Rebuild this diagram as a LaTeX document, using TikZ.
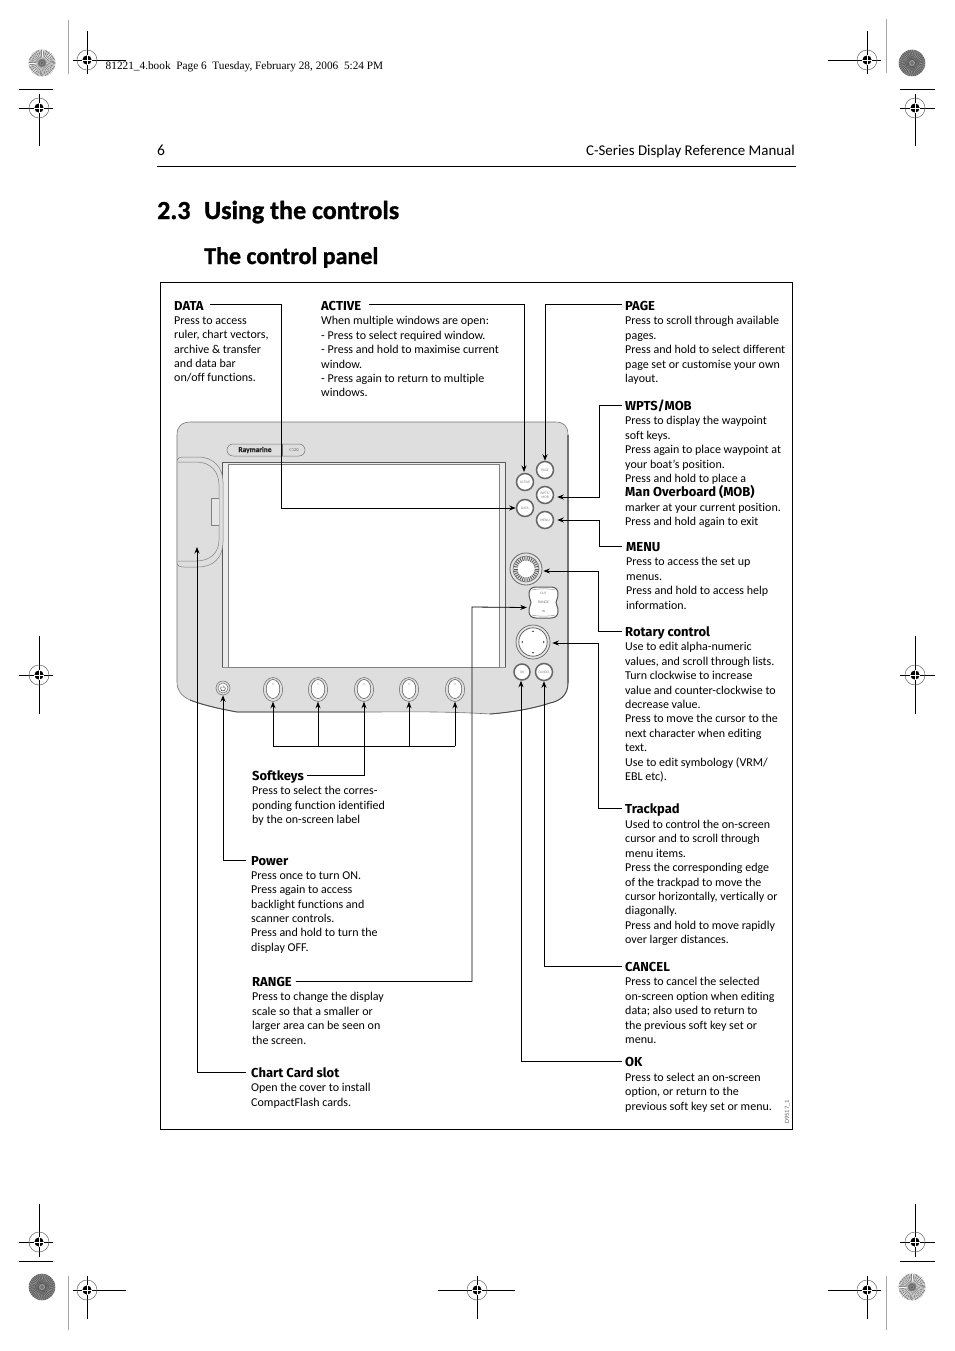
\documentclass[tikz,border=0pt]{standalone}
\usepackage{fontspec}
\usetikzlibrary{arrows.meta,calc,shapes.geometric}
\setmainfont[Ligatures=NoCommon]{Carlito}
\newfontfamily\heavy[BoldFeatures={FakeBold=1.1}]{Carlito}
\newfontfamily\headf{Fira Sans}
\newfontfamily\headerserif{Liberation Serif}
\tikzset{
  bodytext/.style={anchor=north west,inner sep=0pt,yshift=-2.7pt,align=left,font=\fontsize{12}{14.45}\selectfont},
  headtext/.style={anchor=west,inner sep=0pt,text height=8.4pt,text depth=0pt,yshift=-0.4pt,font=\headf\bfseries\fontsize{13}{14.45}\selectfont},
  conn/.style={draw=black,line width=0.8pt},
  arr/.style={conn,-{Stealth[length=6.5pt,width=5pt]}},
  keybtn/.style={circle,inner sep=0pt,minimum size=#1,fill=white,draw=black!60,line width=1.5pt,text=black!50,align=center,font=\fontsize{3.6}{4}\selectfont},
  softring/.style={ellipse,inner sep=0pt,minimum width=19.4pt,minimum height=24pt,draw=black!60,line width=0.5pt,fill=black!12},
  softcap/.style={draw=black!70,line width=0.5pt,fill=white},
  regthin/.style={draw=black!60,line width=0.5pt},
  regline/.style={draw=black,line width=0.8pt},
  panelline/.style={draw=black!55,line width=0.6pt},
  pics/regmark/.style={code={
    \draw[regthin] (0,0) circle (10);
    \fill[black] (0,0) circle (4.6);
    \draw[white,line width=0.7pt] (-5,0) -- (5,0) (0,-5) -- (0,5);
  }},
  pics/burst/.style={code={
    \fill[black!45] (0,0) circle (13.3);
    \foreach \a in {0,6,...,354} {\draw[white,line width=0.45pt] (\a:4) -- (\a:13.3);}
    \foreach \a in {3,15,...,351} {\draw[black!60,line width=0.35pt] (\a:2) -- (\a:13.3);}
    \fill[black!70] (0,0) circle (1);
  }},
  pics/noisy/.style={code={
    \fill[black!55] (0,0) circle (13.3);
    \foreach \a in {0,10,...,350} {\draw[black!35,line width=0.5pt] (\a:2) -- (\a+37:13);}
    \foreach \a in {5,15,...,355} {\draw[black!70,line width=0.35pt] (\a:3) -- (\a-41:13);}
  }},
}
\begin{document}
\begin{tikzpicture}[x=1pt,y=-1pt]
\useasboundingbox (0,0) rectangle (954,1351);
\fill[white] (0,0) rectangle (954,1351);

% --- printer's marks
\foreach \x/\y/\hl/\hr/\vt/\vb in {87/60/73/126/31/74, 867/60/828/881/31/74, 39/108/19/53/94/146, 915/108/900/935/94/146,
    39/675/19/53/636/714, 915/675/900/935/636/714, 39/1242/19/53/1204/1257, 915/1242/900/935/1204/1257,
    87/1290/73/126/1276/1319, 867/1290/828/881/1276/1319, 477/1290/438/515/1276/1319} {
  \draw[regline] (\hl,\y) -- (\hr,\y) (\x,\vt) -- (\x,\vb);
  \pic at (\x,\y) {regmark};
}
\draw[regline] (19,89) -- (53,89) (900,89) -- (935,89) (19,1261) -- (53,1261) (900,1261) -- (935,1261);
\draw[draw=black!35,line width=0.8pt] (68,20) -- (68,74) (886,19) -- (886,73) (68,1276) -- (68,1330) (886,1276) -- (886,1330);
\pic at (42,63) {burst};
\pic at (912,1287) {burst};
\pic at (912,63) {noisy};
\pic at (42,1287) {noisy};
\node[anchor=west,inner sep=0pt,font=\headerserif\fontsize{11.3}{13}\selectfont] (slug) at (105.5,66.5) {81221\_4.book\ \ Page 6\ \ Tuesday, February 28, 2006\ \ 5:24 PM};

% --- page head
\node[anchor=base west,inner sep=0pt,font=\fontsize{15.5}{18}\selectfont] (pageno) at (157,156) {6};
\node[anchor=base east,inner sep=0pt,font=\fontsize{14.9}{18}\selectfont] (running) at (795,156) {C-Series Display Reference Manual};
\draw[conn] (157,166) -- (796,166);
\node[anchor=base west,inner sep=0pt,font=\heavy\bfseries\fontsize{26}{30}\selectfont] (secno) at (157,219) {2.3};
\node[anchor=base west,inner sep=0pt,font=\heavy\bfseries\fontsize{26}{30}\selectfont] (sectitle) at (204,219) {Using the controls};
\node[anchor=base west,inner sep=0pt,font=\heavy\bfseries\fontsize{24}{27}\selectfont] (subtitle) at (204,264) {The control panel};

% --- frame
\draw[conn] (160,282) rectangle (792,1129);

% --- panel
\path[fill=black!13,panelline] (177,435) .. controls (177,426) and (182,422) .. (191,422)
  -- (555,422) .. controls (564,422) and (568,426) .. (568,435) -- (568,683)
  .. controls (568,695) and (560,701) .. (550,703) .. controls (535,708) and (515,712) .. (490,714)
  .. controls (440,711) and (400,712) .. (364,712) .. controls (320,712) and (280,712) .. (237,712)
  .. controls (215,708) and (200,704) .. (190,700) .. controls (181,696) and (177,690) .. (177,682) -- cycle;
\draw[draw=black!55,line width=1.2pt] (568,435) -- (568,683);
\draw[draw=black!70,line width=0.9pt] (568,683) .. controls (568,695) and (560,701) .. (550,703) .. controls (535,708) and (515,712) .. (490,714);
\draw[draw=black!70,line width=0.9pt] (364,712) .. controls (320,712) and (280,712) .. (237,712) .. controls (215,708) and (200,704) .. (190,700);
% bezel and screen
\path[fill=black!8,draw=black!45,line width=0.6pt] (222,462) rectangle (505,667);
\draw[draw=black!65,line width=1pt] (222,667) -- (222,462) -- (505,462) -- (505,667);
\path[fill=white,draw=black!50,line width=0.5pt] (228,464) rectangle (499,667);
% card door
\path[fill=black!13,draw=black!50,line width=0.5pt] (177,462) .. controls (177,458) and (180,457) .. (184,457) -- (198,457)
  .. controls (214,457) and (223,468) .. (223,482) -- (223,542) .. controls (223,557) and (214,567) .. (198,567)
  -- (184,567) .. controls (180,567) and (177,566) .. (177,562) -- cycle;
\draw[draw=black!50,line width=0.5pt] (178,462) -- (196,462) .. controls (211,462) and (219,472) .. (219,485)
  -- (219,540) .. controls (219,552) and (211,561) .. (196,561) -- (178,561);
\draw[draw=black!50,line width=0.5pt,fill=black!10] (219,498) -- (211,498) -- (211,525) -- (219,525);
% logo
\node[inner sep=0pt,minimum width=78pt,minimum height=12pt,rounded corners=6pt,draw=black!55,line width=0.5pt] (pill) at (266,450) {};
\draw[draw=black!55,line width=0.5pt] (282,444) -- (282,456);
\node[inner sep=0pt,font=\heavy\bfseries\fontsize{7.4}{8}\selectfont,text=black!85] (logo) at (255,450) {Raymarine};
\node[inner sep=0pt,font=\fontsize{4.5}{5}\selectfont,text=black!60] (model) at (294,450) {C120};

% keys
\node[keybtn=17pt] (keyActive) at (525,482) {ACTIVE};
\node[keybtn=17pt] (keyPage) at (545,470) {PAGE};
\node[keybtn=17pt] (keyWpts) at (545,495) {WPTS/\\MOB};
\node[keybtn=17pt] (keyData) at (525,508) {DATA};
\node[keybtn=17pt] (keyMenu) at (545,520) {MENU};
\node[keybtn=16pt] (keyOk) at (522,672) {OK};
\node[keybtn=17pt] (keyCancel) at (544,672) {CANCEL};
% rotary
\node[circle,inner sep=0pt,minimum size=32pt,fill=black!10,draw=black!60,line width=0.8pt] (rotary) at (526,569) {};
\draw[draw=black!60,line width=0.6pt] (rotary) circle (13);
\foreach \a in {0,12,...,348} {\draw[draw=black!65,line width=0.9pt] ($(rotary)+(\a:8.5)$) -- ($(rotary)+(\a:12.5)$);}
\fill[white] (rotary) circle (8.2);
% range
\node[inner sep=0pt,minimum width=29pt,minimum height=31pt] (range) at (543.5,602.5) {};
\path[fill=white,draw=black!65,line width=1pt] (536,587) -- (551,587) .. controls (556,587) and (558,590) .. (558,594)
  .. controls (558,599) and (556,600) .. (556,602.5) .. controls (556,605) and (558,606) .. (558,611)
  .. controls (558,615) and (556,618) .. (551,618) -- (536,618) .. controls (531,618) and (529,615) .. (529,611)
  .. controls (529,606) and (531,605) .. (531,602.5) .. controls (531,600) and (529,599) .. (529,594)
  .. controls (529,590) and (531,587) .. (536,587) -- cycle;
\node[inner sep=0pt,text=black!55,font=\fontsize{3.8}{5}\selectfont] (rangeLbl) at (543.5,602) {RANGE};
\node[inner sep=0pt,text=black!55,font=\fontsize{3.4}{4}\selectfont] (rangeOut) at (543.5,593) {OUT};
\node[inner sep=0pt,text=black!55,font=\fontsize{3.4}{4}\selectfont] (rangeIn) at (543.5,611) {IN};
\draw[draw=black!40,line width=0.5pt] (532,590) .. controls (536,588.5) and (551,588.5) .. (555,590) (532,615) .. controls (536,616.5) and (551,616.5) .. (555,615);
% trackpad
\node[circle,inner sep=0pt,minimum size=34pt,fill=black!10,draw=black!60,line width=0.7pt] (trackpad) at (533,642) {};
\draw[draw=black!60,line width=0.8pt,fill=white] (trackpad) circle (14.2);
\foreach \a in {0,90,180,270} {\fill[black!60] ($(trackpad)+(\a:10.5)$) ++(\a:1.2) -- ++(\a+140:2) -- ++(\a+270:2.6) -- cycle;}
% softkeys
\foreach \n/\x in {1/273,2/318,3/364,4/409,5/455} {
  \node[softring] (soft\n) at (\x,689.5) {};
  \path[softcap] (\x,689) ellipse (6.8 and 9.5);
  \fill[black!55] (\x,684) circle (0.7);
}
\node[circle,inner sep=0pt,minimum size=14pt,draw=black!60,line width=0.5pt,fill=black!12] (powerRing) at (223,688) {};
\node[circle,inner sep=0pt,minimum size=10pt,fill=white,draw=black!60,line width=0.5pt] (power) at (223,688) {};
\draw[draw=black!80,line width=0.5pt] (223,685.3) -- (223,688) (224.5,686.7) arc[start angle=-50,end angle=230,radius=2.4];

% --- labels
\node[headtext] (hData) at (174,305.5) {DATA};
\node[bodytext] (bData) at (174,313.5) {Press to access\\ruler, chart vectors,\\archive \& transfer\\and data bar\\on/off functions.};
\node[headtext] (hActive) at (321,305.5) {ACTIVE};
\node[bodytext] (bActive) at (321,313.5) {When multiple windows are open:\\- Press to select required window.\\- Press and hold to maximise current\\window.\\- Press again to return to multiple\\windows.};
\node[headtext] (hPage) at (625,305.5) {PAGE};
\node[bodytext] (bPage) at (625,313.5) {Press to scroll through available\\pages.\\Press and hold to select different\\page set or customise your own\\layout.};
\node[headtext] (hWpts) at (625,405.5) {WPTS/MOB};
\node[bodytext] (bWpts) at (625,413.5) {Press to display the waypoint\\soft keys.\\Press again to place waypoint at\\your boat's position.\\Press and hold to place a\\{\headf\bfseries\fontsize{13}{14.45}\selectfont Man Overboard (MOB)}\\marker at your current position.\\Press and hold again to exit};
\node[headtext] (hMenu) at (626,546.5) {MENU};
\node[bodytext] (bMenu) at (626,554.5) {Press to access the set up\\menus.\\Press and hold to access help\\information.};
\node[headtext] (hRotary) at (625,631.5) {Rotary control};
\node[bodytext] (bRotary) at (625,639.5) {Use to edit alpha-numeric\\values, and scroll through lists.\\Turn clockwise to increase\\value and counter-clockwise to\\decrease value.\\Press to move the cursor to the\\next character when editing\\text.\\Use to edit symbology (VRM/\\EBL etc).};
\node[headtext] (hTrack) at (625,808.5) {Trackpad};
\node[bodytext] (bTrack) at (625,817) {Used to control the on-screen\\cursor and to scroll through\\menu items.\\Press the corresponding edge\\of the trackpad to move the\\cursor horizontally, vertically or\\diagonally.\\Press and hold to move rapidly\\over larger distances.};
\node[headtext] (hCancel) at (625,966.5) {CANCEL};
\node[bodytext] (bCancel) at (625,974.5) {Press to cancel the selected\\on-screen option when editing\\data; also used to return to\\the previous soft key set or\\menu.};
\node[headtext] (hOk) at (625,1061.5) {OK};
\node[bodytext] (bOk) at (625,1070) {Press to select an on-screen\\option, or return to the\\previous soft key set or menu.};
\node[headtext] (hSoft) at (252,775.5) {Softkeys};
\node[bodytext] (bSoft) at (252,783.5) {Press to select the corres-\\ponding function identified\\by the on-screen label};
\node[headtext] (hPower) at (251,860.5) {Power};
\node[bodytext] (bPower) at (251,868.5) {Press once to turn ON.\\Press again to access\\backlight functions and\\scanner controls.\\Press and hold to turn the\\display OFF.};
\node[headtext] (hRange) at (252,981.5) {RANGE};
\node[bodytext] (bRange) at (252,989.5) {Press to change the display\\scale so that a smaller or\\larger area can be seen on\\the screen.};
\node[headtext] (hChart) at (251,1072.5) {Chart Card slot};
\node[bodytext] (bChart) at (251,1080.5) {Open the cover to install\\CompactFlash cards.};
\node[rotate=90,inner sep=0pt,text=black!60,font=\fontsize{6.5}{8}\selectfont] (figid) at (787.5,1112) {D9517\_1};

% --- connector ends and start points
\coordinate (cardEnd) at (197,547);
\coordinate (bracketL) at (273,746);
\coordinate (bracketR) at (455,746);

% --- connectors
\draw[arr] ([xshift=6pt,yshift=1.4pt]hData.east) -| (281,508) -- (keyData.west);
\draw[arr] ([xshift=8pt,yshift=1.4pt]hActive.east) -| (524,472);
\draw[arr] ([xshift=-3pt,yshift=1.4pt]hPage.west) -| (keyPage.north);
\draw[arr] ([xshift=-3pt,yshift=0.4pt]hWpts.west) -| (599,497) -- ([yshift=-2pt,xshift=3pt]keyWpts.east);
\draw[arr] ([xshift=-4pt,yshift=0.4pt]hMenu.west) -| (599,520) -- ([xshift=3pt]keyMenu.east);
\draw[arr] ([xshift=-3pt,yshift=0.4pt]hRotary.west) -| (598,571) -- ([yshift=-2pt,xshift=1pt]rotary.east);
\draw[arr] ([xshift=-3pt,yshift=0.4pt]hTrack.west) -| (598,643) -- ([xshift=2pt,yshift=-1pt]trackpad.east);
\draw[arr] ([xshift=-3pt,yshift=0.4pt]hCancel.west) -| (keyCancel.south);
\draw[arr] ([xshift=-3pt,yshift=0.4pt]hOk.west) -| ([xshift=-1pt]keyOk.south);
\draw[arr] ([xshift=4pt,yshift=0.4pt]hRange.east) -| (472,607) -- ([yshift=-5pt,xshift=-2pt]range.west);
\draw[arr] ([xshift=-5pt,yshift=0.4pt]hChart.west) -| (cardEnd);
\draw[arr] ([xshift=-5pt,yshift=0.4pt]hPower.west) -| (powerRing.south);
\draw[conn] ([xshift=3pt,yshift=0.4pt]hSoft.east) -| (364,746);
\draw[conn] (bracketL) -- (bracketR);
\foreach \n in {1,...,5} {
  \draw[arr] (bracketL -| soft\n) -- (soft\n.south);
}
\end{tikzpicture}
\end{document}
